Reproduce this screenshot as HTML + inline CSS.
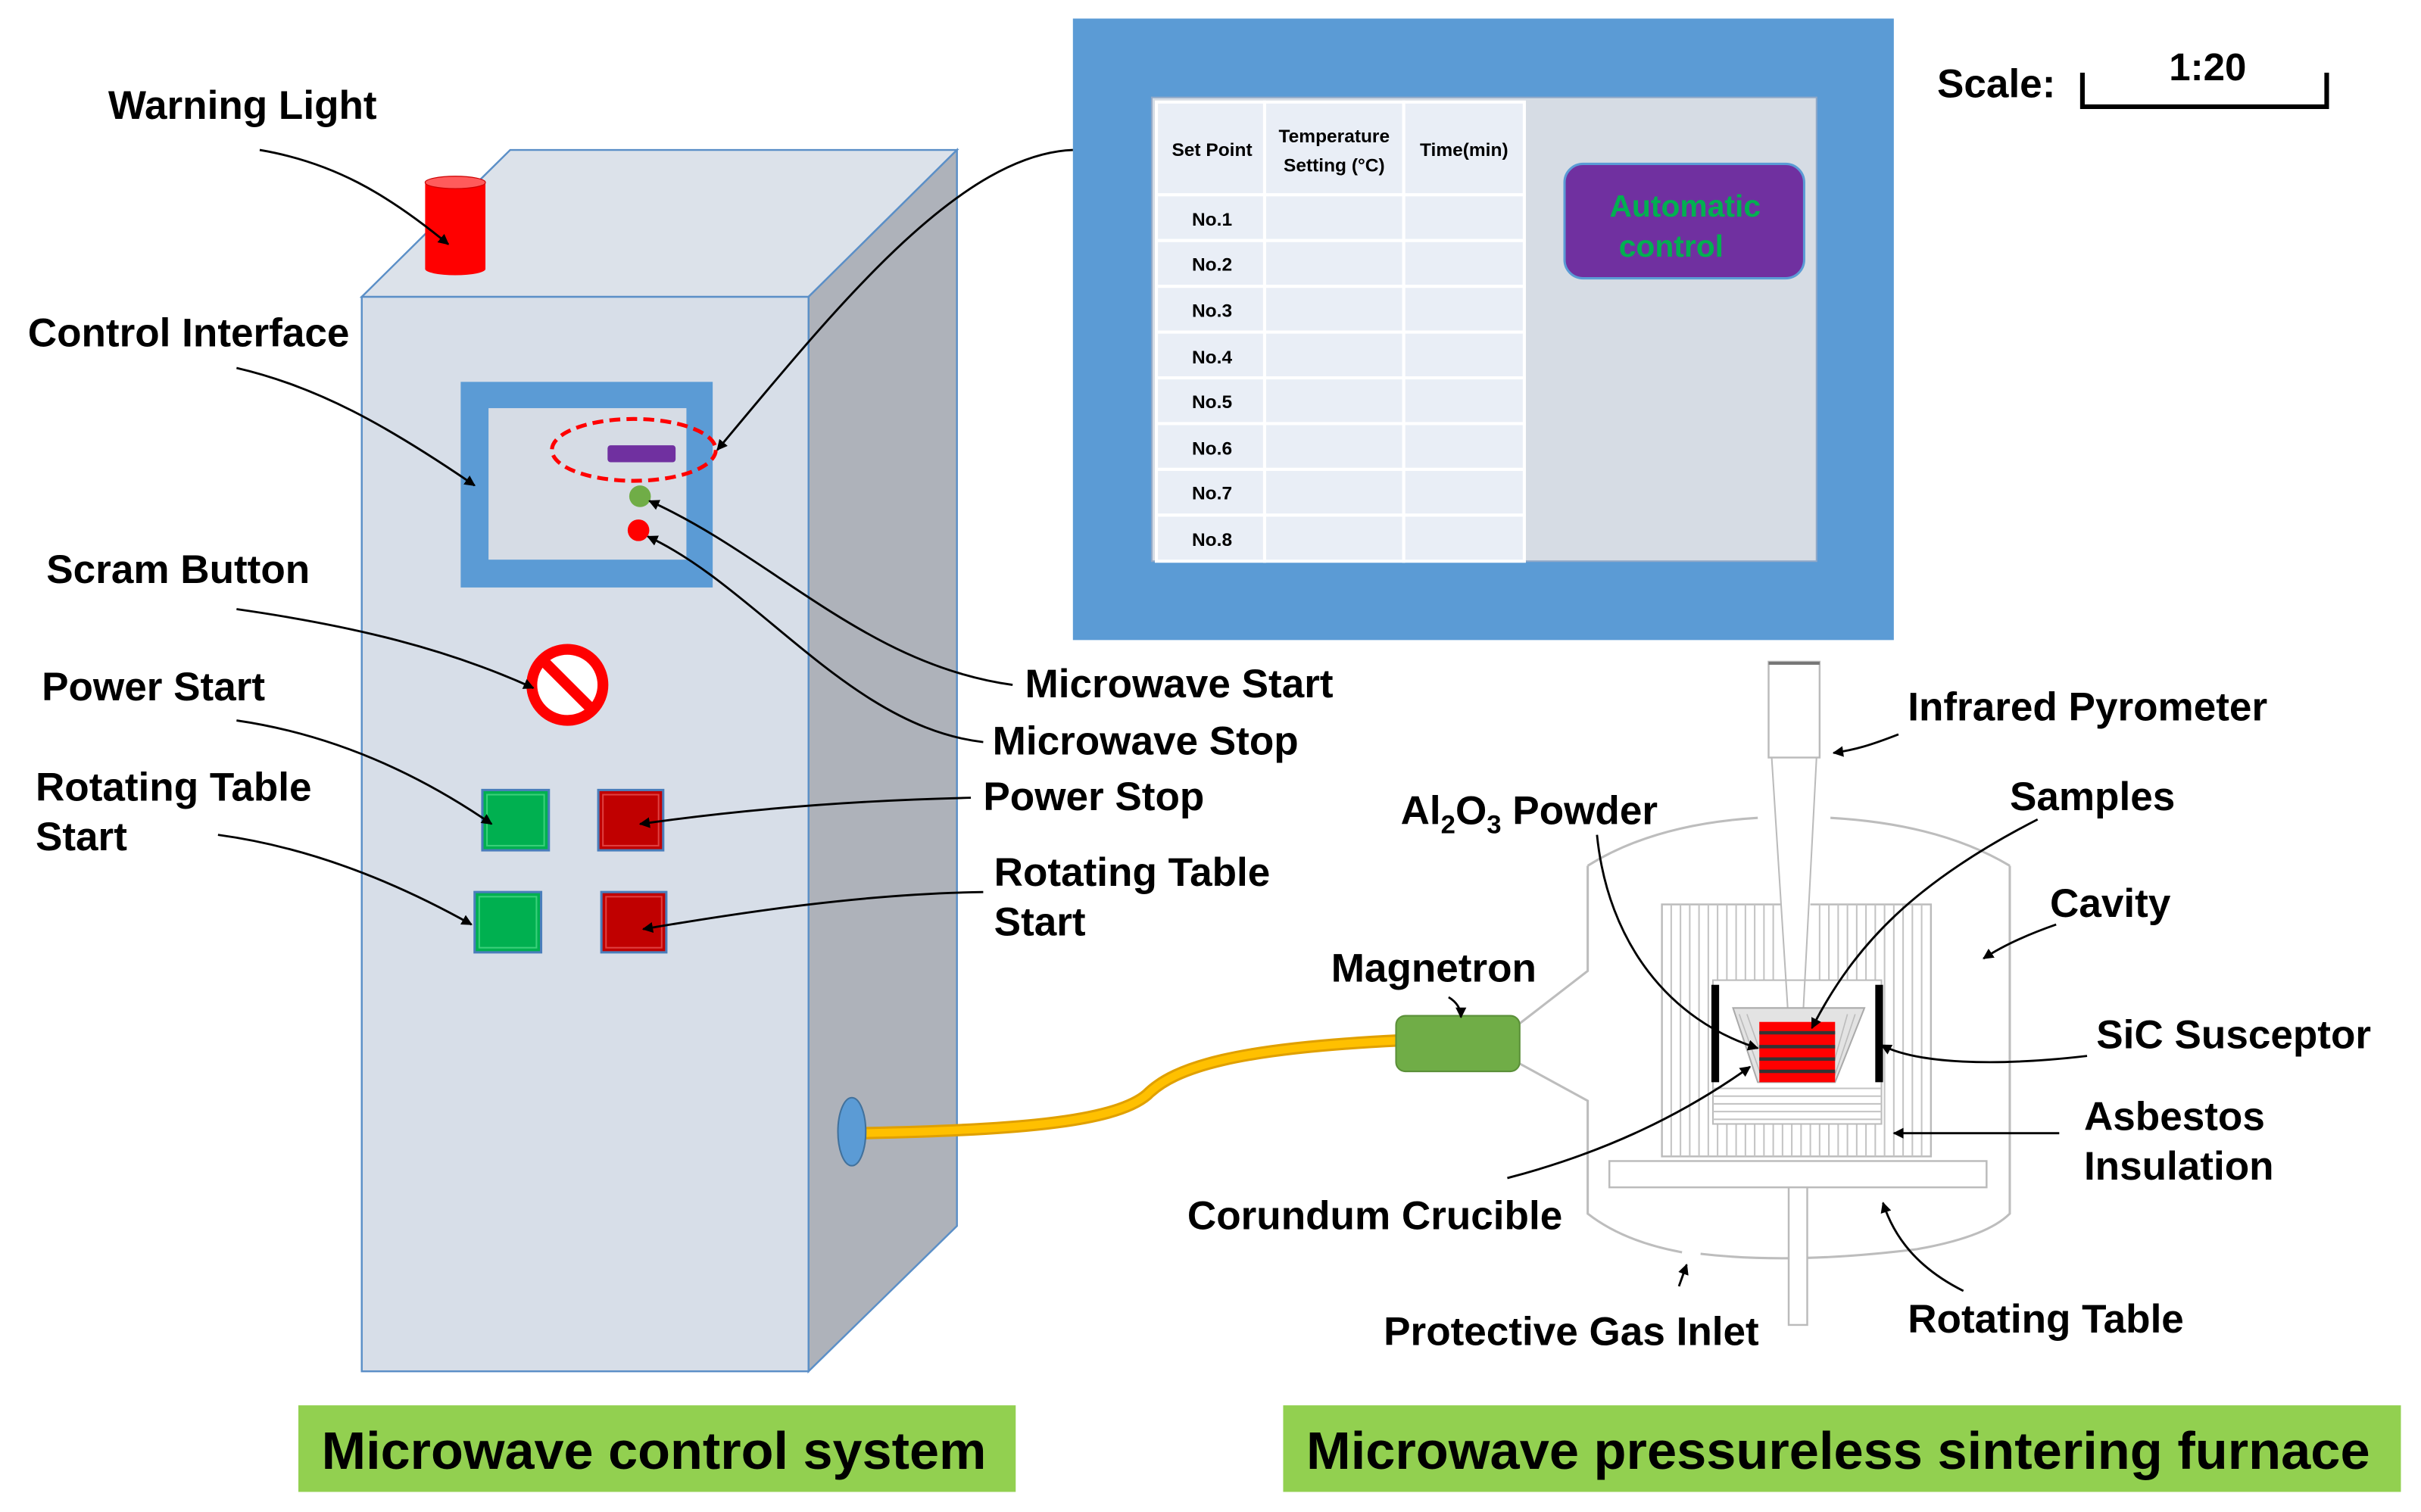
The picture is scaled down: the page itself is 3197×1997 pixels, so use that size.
<!DOCTYPE html>
<html><head><meta charset="utf-8"><style>
html,body{margin:0;padding:0;background:#fff;}
svg{display:block;}
text{font-family:"Liberation Sans",Arial,sans-serif;font-weight:bold;fill:#000;}
</style></head><body>
<svg width="3197" height="1997" viewBox="0 0 1566 978" preserveAspectRatio="none" xmlns="http://www.w3.org/2000/svg">
<defs>
<marker id="ah" viewBox="0 0 10 10" refX="9" refY="5" markerWidth="7" markerHeight="7" orient="auto-start-reverse" markerUnits="userSpaceOnUse"><path d="M0,0 L10,5 L0,10 z" fill="#000"/></marker>
</defs>
<rect width="1566" height="978" fill="#fff"/>

<!-- cabinet -->
<polygon points="234,192 330,97 619,97 523,192" fill="#dce2ea" stroke="#5b8fc7" stroke-width="1.2"/>
<polygon points="523,192 619,97 619,793 523,887" fill="#aeb2ba" stroke="#5b8fc7" stroke-width="1.2"/>
<rect x="234" y="192" width="289" height="695" fill="#d7dee8" stroke="#5b8fc7" stroke-width="1.2"/>

<!-- warning light -->
<rect x="275" y="118" width="39" height="56" fill="#ff0000"/>
<ellipse cx="294.5" cy="174" rx="19.5" ry="4" fill="#ff0000"/>
<ellipse cx="294.5" cy="118" rx="19.5" ry="4" fill="#ff5b5b" stroke="#c00" stroke-width="0.6"/>

<!-- control interface -->
<rect x="298" y="247" width="163" height="133" fill="#5b9bd5"/>
<rect x="316" y="264" width="128" height="98" fill="#d6dce5"/>
<rect x="393" y="288" width="44" height="11" fill="#7030a0" rx="2"/>
<ellipse cx="410" cy="291" rx="53" ry="20" fill="none" stroke="#ff0000" stroke-width="2.5" stroke-dasharray="7,4"/>
<circle cx="414" cy="321" r="7" fill="#70ad47"/>
<circle cx="413" cy="343" r="7" fill="#ff0000"/>

<!-- scram -->
<circle cx="367" cy="443" r="23" fill="#fff" stroke="#ff0000" stroke-width="7"/>
<line x1="352" y1="428" x2="382" y2="458" stroke="#ff0000" stroke-width="7"/>

<!-- buttons -->
<rect x="312" y="511" width="43" height="39" fill="#00b050" stroke="#4a7ebb" stroke-width="1.5"/>
<rect x="315" y="514" width="37" height="33" fill="none" stroke="#3ad07a" stroke-width="1"/>
<rect x="387" y="511" width="42" height="39" fill="#c00000" stroke="#4a7ebb" stroke-width="1.5"/>
<rect x="390" y="514" width="36" height="33" fill="none" stroke="#e04040" stroke-width="1"/>
<rect x="307" y="577" width="43" height="39" fill="#00b050" stroke="#4a7ebb" stroke-width="1.5"/>
<rect x="310" y="580" width="37" height="33" fill="none" stroke="#3ad07a" stroke-width="1"/>
<rect x="389" y="577" width="42" height="39" fill="#c00000" stroke="#4a7ebb" stroke-width="1.5"/>
<rect x="392" y="580" width="36" height="33" fill="none" stroke="#e04040" stroke-width="1"/>

<!-- port and cable -->
<path d="M556,733 C650,731 720,727 742,708 C760,690 800,678 905,673" fill="none" stroke="#e0a000" stroke-width="8"/>
<path d="M556,733 C650,731 720,727 742,708 C760,690 800,678 905,673" fill="none" stroke="#ffc000" stroke-width="5"/>
<ellipse cx="551" cy="732" rx="9" ry="22" fill="#5b9bd5" stroke="#41719c" stroke-width="1"/>

<!-- screen -->
<rect x="694" y="12" width="531" height="402" fill="#5b9bd5"/>
<rect x="745" y="63" width="430" height="300" fill="#d6dce4" stroke="#8fa8c8" stroke-width="1"/>
<g fill="#e9eef6" stroke="#fff" stroke-width="2">
<rect x="748" y="66" width="70" height="60"/><rect x="818" y="66" width="90" height="60"/><rect x="908" y="66" width="78" height="60"/>
<rect x="748" y="126" width="70" height="29.6"/><rect x="818" y="126" width="90" height="29.6"/><rect x="908" y="126" width="78" height="29.6"/>
<rect x="748" y="155.6" width="70" height="29.6"/><rect x="818" y="155.6" width="90" height="29.6"/><rect x="908" y="155.6" width="78" height="29.6"/>
<rect x="748" y="185.2" width="70" height="29.6"/><rect x="818" y="185.2" width="90" height="29.6"/><rect x="908" y="185.2" width="78" height="29.6"/>
<rect x="748" y="214.8" width="70" height="29.6"/><rect x="818" y="214.8" width="90" height="29.6"/><rect x="908" y="214.8" width="78" height="29.6"/>
<rect x="748" y="244.4" width="70" height="29.6"/><rect x="818" y="244.4" width="90" height="29.6"/><rect x="908" y="244.4" width="78" height="29.6"/>
<rect x="748" y="274" width="70" height="29.6"/><rect x="818" y="274" width="90" height="29.6"/><rect x="908" y="274" width="78" height="29.6"/>
<rect x="748" y="303.6" width="70" height="29.6"/><rect x="818" y="303.6" width="90" height="29.6"/><rect x="908" y="303.6" width="78" height="29.6"/>
<rect x="748" y="333.2" width="70" height="29.8"/><rect x="818" y="333.2" width="90" height="29.8"/><rect x="908" y="333.2" width="78" height="29.8"/>
</g>
<g font-size="12" text-anchor="middle" fill="#222">
<text x="784" y="101">Set Point</text>
<text x="863" y="92">Temperature</text>
<text x="863" y="111">Setting (°C)</text>
<text x="947" y="101">Time(min)</text>
<text x="784" y="146">No.1</text><text x="784" y="175">No.2</text><text x="784" y="205">No.3</text><text x="784" y="235">No.4</text>
<text x="784" y="264">No.5</text><text x="784" y="294">No.6</text><text x="784" y="323">No.7</text><text x="784" y="353">No.8</text>
</g>
<rect x="1012" y="106" width="155" height="74" rx="12" fill="#7030a0" stroke="#5b9bd5" stroke-width="1.5"/>
<text x="1090" y="140" font-size="20" text-anchor="middle" style="fill:#00b050">Automatic</text>
<text x="1081" y="166" font-size="20" text-anchor="middle" style="fill:#00b050">control</text>

<!-- scale -->
<text x="1253" y="63" font-size="26">Scale:</text>
<text x="1428" y="52" font-size="25" text-anchor="middle">1:20</text>
<path d="M1347,47 L1347,69 L1505,69 L1505,47" fill="none" stroke="#000" stroke-width="3"/>

<!-- furnace -->
<g fill="none" stroke="#bdbdbd" stroke-width="1.5">
<path d="M1027,560 Q1070,533 1137,529"/>
<path d="M1184,529 Q1255,533 1300,560"/>
<path d="M1027,560 L1027,628 L983,662"/>
<path d="M983,688 L1027,712 L1027,785 Q1050,803 1088,810"/>
<path d="M1100,811 Q1160,818 1240,808 Q1285,800 1300,785 L1300,560"/>
</g>
<rect x="1075" y="585" width="174" height="163" fill="#fff" stroke="#bbb" stroke-width="1.2"/>
<g stroke="#c4c4c4" stroke-width="1">
<path d="M1081,585V748M1087,585V748M1093,585V748M1099,585V748M1105,585V748M1111,585V748M1117,585V748M1123,585V748M1129,585V748M1135,585V748M1141,585V748M1147,585V748M1177,585V748M1183,585V748M1189,585V748M1195,585V748M1201,585V748M1207,585V748M1213,585V748M1219,585V748M1225,585V748M1231,585V748M1237,585V748M1243,585V748M1153,727V748M1159,727V748M1165,727V748M1171,727V748"/>
</g>
<rect x="1152" y="584" width="19" height="52" fill="#fff"/>
<rect x="1108" y="634" width="109" height="93" fill="#fff" stroke="#bbb" stroke-width="1"/>
<g stroke="#c4c4c4" stroke-width="1">
<path d="M1108,704H1217M1108,709H1217M1108,714H1217M1108,719H1217M1108,724H1217"/>
</g>
<rect x="1144" y="428" width="33" height="62" fill="#fff" stroke="#bbb" stroke-width="1.2"/>
<line x1="1144" y1="429" x2="1177" y2="429" stroke="#777" stroke-width="2"/>
<path d="M1146,490 L1157,662 M1175,490 L1166,662" stroke="#bbb" stroke-width="1" fill="none"/>
<polygon points="1121,652 1206,652 1187,700 1137,700" fill="#e3e3e3" stroke="#aaa" stroke-width="1"/>
<g stroke="#bcbcbc" stroke-width="0.8"><path d="M1125,656L1140,698M1130,656L1142,690M1200,656L1186,698M1195,656L1186,688"/></g>
<rect x="1138" y="661" width="49" height="39" fill="#ff0000"/>
<g stroke="#333" stroke-width="2.2"><path d="M1138,668H1187M1138,677H1187M1138,685H1187M1138,693H1187"/></g>
<rect x="1107" y="637" width="5" height="63" fill="#000"/>
<rect x="1213" y="637" width="5" height="63" fill="#000"/>
<rect x="1041" y="751" width="244" height="17" fill="#fff" stroke="#bbb" stroke-width="1.2"/>
<rect x="1157" y="768" width="12" height="89" fill="#fff" stroke="#bbb" stroke-width="1.2"/>
<rect x="903" y="657" width="80" height="36" rx="6" fill="#70ad47" stroke="#5a8f38" stroke-width="1"/>

<!-- leaders -->
<g fill="none" stroke="#000" stroke-width="1.4" marker-end="url(#ah)">
<path d="M168,97 C215,105 250,125 290,158"/>
<path d="M153,238 C205,250 250,275 307,314"/>
<path d="M694,97 C620,100 540,200 464,291"/>
<path d="M153,394 C230,405 290,420 345,445"/>
<path d="M153,466 C215,475 270,500 318,533"/>
<path d="M141,540 C200,548 255,570 305,598"/>
<path d="M655,443 C560,430 500,360 420,324"/>
<path d="M636,480 C550,470 490,380 419,347"/>
<path d="M628,516 C540,518 470,525 414,533"/>
<path d="M636,577 C560,578 480,590 416,601"/>
<path d="M1228,475 C1210,482 1200,485 1186,487"/>
<path d="M1318,530 C1240,570 1200,610 1172,665"/>
<path d="M1033,540 C1040,610 1080,660 1137,678"/>
<path d="M1330,598 C1310,605 1295,612 1283,620"/>
<path d="M1350,683 C1290,690 1240,688 1217,676"/>
<path d="M1332,733 L1225,733"/>
<path d="M975,762 C1040,745 1090,720 1132,690"/>
<path d="M1270,835 C1240,820 1225,800 1218,778"/>
<path d="M1086,832 L1091,818"/>
<path d="M937,645 C942,648 945,652 945,658"/>
</g>

<g font-size="26">
<text x="70" y="77">Warning Light</text>
<text x="18" y="224">Control Interface</text>
<text x="30" y="377">Scram Button</text>
<text x="27" y="453">Power Start</text>
<text x="23" y="518">Rotating Table</text>
<text x="23" y="550">Start</text>
<text x="663" y="451">Microwave Start</text>
<text x="642" y="488">Microwave Stop</text>
<text x="636" y="524">Power Stop</text>
<text x="643" y="573">Rotating Table</text>
<text x="643" y="605">Start</text>
<text x="861" y="635">Magnetron</text>
<text x="906" y="533">Al<tspan font-size="17" dy="6">2</tspan><tspan dy="-6">O</tspan><tspan font-size="17" dy="6">3</tspan><tspan dy="-6"> Powder</tspan></text>
<text x="1234" y="466">Infrared Pyrometer</text>
<text x="1300" y="524">Samples</text>
<text x="1326" y="593">Cavity</text>
<text x="1356" y="678">SiC Susceptor</text>
<text x="1348" y="731">Asbestos</text>
<text x="1348" y="763">Insulation</text>
<text x="768" y="795">Corundum Crucible</text>
<text x="895" y="870">Protective Gas Inlet</text>
<text x="1234" y="862">Rotating Table</text>
</g>

<rect x="193" y="909" width="464" height="56" fill="#92d050"/>
<text x="208" y="950" font-size="34" textLength="430" lengthAdjust="spacingAndGlyphs">Microwave control system</text>
<rect x="830" y="909" width="723" height="56" fill="#92d050"/>
<text x="845" y="950" font-size="34" textLength="688" lengthAdjust="spacingAndGlyphs">Microwave pressureless sintering furnace</text>
</svg>
</body></html>
